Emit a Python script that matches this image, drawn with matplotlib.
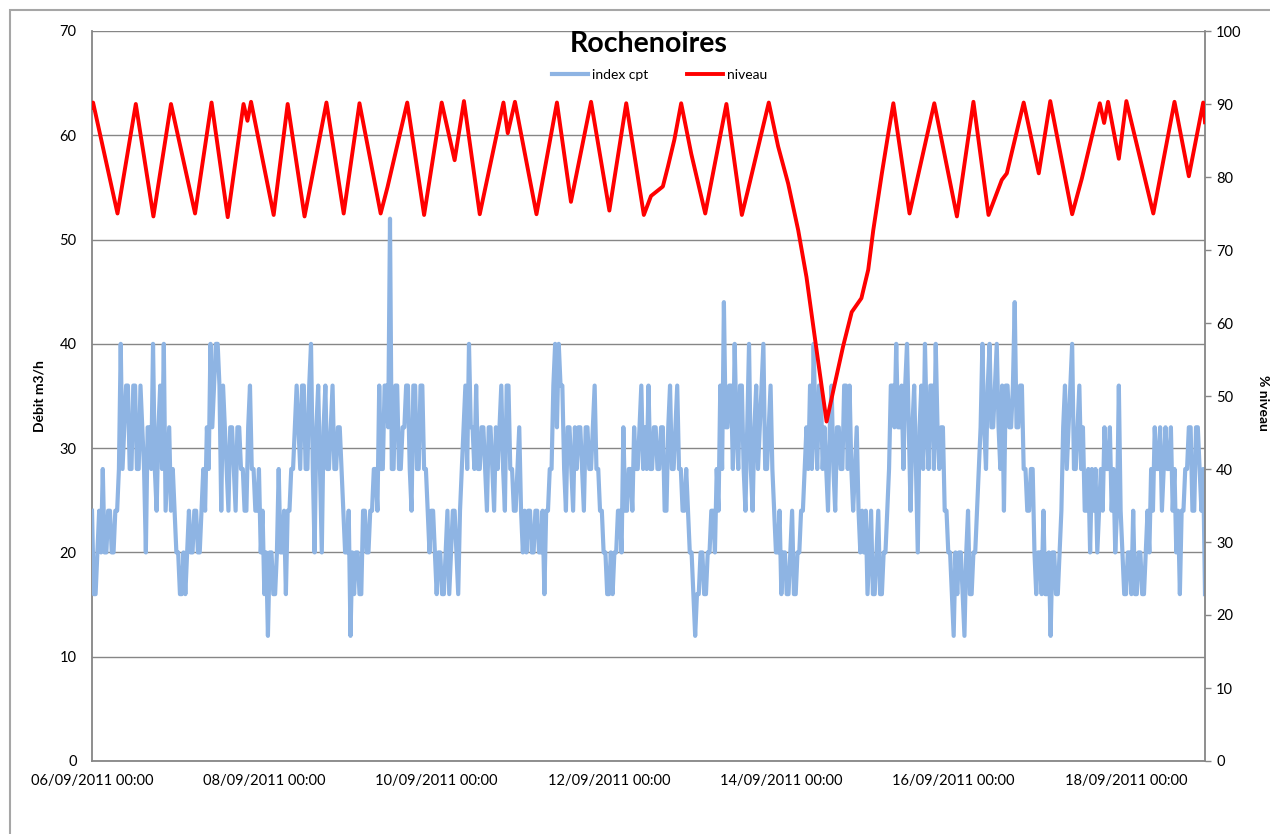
import numpy as np
import pandas as pd
import matplotlib
matplotlib.use("Agg")
import matplotlib.pyplot as plt
import matplotlib.dates as mdates
from matplotlib.patches import Rectangle

plt.rcParams['font.family'] = ['Lato', 'DejaVu Sans']

# debit index cpt (m3/h), one value every 30 min from 06/09/2011 00:00, one list per day
debit_j0 = [24,16,16,20,24,20,28,20,20,24,24,20,20,24,24,28,40,28,32,36,36,28,28,36,
            36,28,28,36,32,28,20,32,32,28,40,28,24,32,36,28,40,24,28,32,24,28,24,20]
debit_j1 = [20,16,16,20,16,20,24,20,20,24,24,20,20,24,28,24,32,28,40,32,36,40,40,36,
            24,36,32,28,24,32,32,28,24,32,32,28,28,24,24,32,36,28,28,24,24,28,20,24]
debit_j2 = [16,20,12,20,20,16,16,20,28,20,20,24,16,24,24,28,28,32,36,32,28,36,36,28,
            28,36,40,28,20,32,36,28,20,32,36,28,28,32,36,28,28,32,32,28,24,20,20,24]
debit_j3 = [12,20,16,20,20,16,16,24,24,20,20,24,24,28,28,24,36,28,28,36,36,32,52,28,
            28,36,36,28,28,32,32,36,36,28,24,36,36,28,28,36,36,28,28,24,20,24,24,20]
debit_j4 = [16,20,20,16,16,20,24,16,20,24,24,20,16,24,28,32,36,28,40,32,32,28,36,28,
            28,32,32,28,24,32,32,28,24,32,28,32,36,28,24,36,36,28,28,24,24,28,32,24]
debit_j5 = [20,24,20,24,24,20,20,24,24,20,20,24,16,24,24,28,28,36,40,32,40,36,36,28,
            24,32,32,28,24,32,28,32,32,28,24,32,32,28,28,32,36,28,28,24,24,20,20,16]
debit_j6 = [16,20,16,20,20,24,24,20,32,24,24,28,28,24,32,28,28,32,36,28,32,28,36,28,
            28,32,32,28,28,32,32,24,24,32,36,28,28,32,36,28,28,24,24,28,24,20,20,16]
debit_j7 = [12,16,16,20,20,16,16,20,20,24,24,20,28,24,36,28,44,32,32,36,36,28,40,32,
            28,36,36,28,24,32,40,28,24,32,36,28,32,36,40,28,28,32,36,28,24,20,20,24]
debit_j8 = [16,20,20,16,16,20,24,16,16,20,20,24,24,28,32,28,36,28,40,32,28,36,36,28,
            32,28,24,32,36,28,24,32,32,28,28,36,36,28,36,28,24,28,32,24,20,24,20,24]
debit_j9 = [16,20,24,16,16,20,24,16,16,20,20,24,28,36,36,32,40,32,32,36,28,36,40,32,
            24,32,36,28,20,32,36,28,40,32,28,36,36,28,40,32,28,32,32,24,24,20,20,16]
debit_j10 = [12,20,16,20,20,16,12,20,24,16,16,20,20,24,28,32,40,32,28,36,40,32,32,36,
             40,32,28,36,24,36,36,32,32,36,44,32,32,36,36,28,28,24,24,28,28,20,16,20]
debit_j11 = [20,16,24,16,16,20,12,20,20,16,16,20,24,32,36,28,32,36,40,28,28,32,36,28,
             32,24,24,28,20,28,24,28,20,24,28,24,32,28,28,32,24,28,20,24,36,24,20,16]
debit_j12 = [16,20,20,16,24,16,16,20,20,16,16,20,24,20,28,24,32,28,28,32,24,28,32,28,
             28,32,24,28,20,24,16,24,24,28,28,32,32,24,24,32,32,28,24,28,16]

# niveau (%), hours after 06/09/2011 00:00
niveau_h = [0, 0.3, 7.1, 12.2, 17.1, 22.0, 28.7, 33.3, 37.8, 42.2, 43.3, 44.3, 50.6,
            54.5, 59.2, 65.3, 70.1, 74.5, 80.4, 82.3, 87.8, 92.5, 97.4, 101.0, 103.6,
            108.0, 114.6, 115.8, 117.8, 123.8, 129.5, 133.4, 139.0, 144.1, 148.8,
            153.7, 155.7, 159.0, 160.4, 162.2, 164.1, 166.9, 170.8, 176.7, 181.0,
            182.7, 188.5, 191.1, 193.9, 196.7, 199.0, 201.3, 204.6, 206.9, 209.2,
            211.6, 214.3, 216.2, 217.6, 220.0, 221.8, 223.2, 227.7, 234.6, 240.9,
            245.5, 249.7, 253.4, 254.8, 259.5, 263.7, 266.9, 273.0, 275.7, 280.7,
            281.9, 283.0, 286.0, 288.1, 295.6, 301.5, 305.5, 309.5, 310.0]
niveau_pct = [89.5, 90.2, 75.0, 90.0, 74.6, 90.0, 75.0, 90.2, 74.5, 90.0, 87.7, 90.3, 74.8,
              90.0, 74.6, 90.2, 75.0, 90.1, 75.0, 78.6, 90.2, 74.8, 90.2, 82.3, 90.4,
              74.9, 90.2, 86.0, 90.3, 74.9, 90.2, 76.6, 90.3, 75.4, 90.1,
              74.8, 77.4, 78.7, 81.4, 85.1, 90.1, 83.2, 75.0, 90.0, 74.8,
              78.2, 90.2, 84.2, 79.1, 72.7, 66.3, 58.1, 46.5, 51.7, 56.8,
              61.5, 63.4, 67.3, 72.7, 80.5, 86.0, 90.1, 75.0, 90.1, 74.6,
              90.3, 74.8, 79.6, 80.5, 90.2, 80.5, 90.4, 74.9, 79.8, 90.1,
              87.4, 90.3, 82.5, 90.4, 75.0, 90.3, 80.1, 90.2, 87.5]

debit = (debit_j0 + debit_j1 + debit_j2 + debit_j3 + debit_j4 + debit_j5 + debit_j6
         + debit_j7 + debit_j8 + debit_j9 + debit_j10 + debit_j11 + debit_j12)

debut = pd.Timestamp('2011-09-06 00:00')
t_debit = pd.date_range(debut, periods=len(debit), freq='30min')
t_niveau = debut + pd.to_timedelta(niveau_h, unit='h')

gris = '#868686'

fig = plt.figure(figsize=(12.7, 8.34), dpi=100)
ax = fig.add_axes([92/1270, 1 - 761/834, (1205-92)/1270, (761-31)/834])
ax2 = ax.twinx()

l1, = ax.plot(t_debit, debit, color='#8EB4E3', lw=3.0, label='index cpt', zorder=3)
l2, = ax2.plot(t_niveau, niveau_pct, color='#FF0000', lw=2.8, label='niveau', zorder=4)

ax.set_xlim(t_debit[0], t_debit[-1])
ax.set_ylim(0, 70)
ax.set_yticks(np.arange(0, 71, 10))
ax2.set_ylim(0, 100)
ax2.set_yticks(np.arange(0, 101, 10))

ax.set_xticks(pd.date_range(debut, periods=7, freq='2D'))
ax.xaxis.set_major_formatter(mdates.DateFormatter('%d/%m/%Y %H:%M'))

ax.grid(axis='y', color=gris, lw=1)
ax.set_axisbelow(True)

for s in ['top', 'right']:
    ax.spines[s].set_visible(False)
for s in ['left', 'bottom']:
    ax.spines[s].set_color(gris)
    ax.spines[s].set_linewidth(1.3)
for s in ['left', 'top', 'bottom']:
    ax2.spines[s].set_visible(False)
ax2.spines['right'].set_color(gris)
ax2.spines['right'].set_linewidth(1.3)

ax.tick_params(axis='y', length=0, pad=11, labelsize=10.5)
ax.tick_params(axis='x', length=0, pad=9, labelsize=10.5)
ax2.tick_params(axis='y', length=4, width=1, color=gris, pad=4, labelsize=10.5)

ax.set_ylabel('Débit m3/h', fontsize=10, fontweight='bold')
ax.yaxis.set_label_coords(-0.042, 0.5)
ax2.set_ylabel('% niveau', fontsize=10, fontweight='bold', rotation=270, va='bottom')
ax2.yaxis.set_label_coords(1.047, 0.49)

ax.text(0.5, 0.982, 'Rochenoires', transform=ax.transAxes, ha='center', va='center',
        fontsize=20.5, fontweight='bold', zorder=10)
ax.legend([l1, l2], ['index cpt', 'niveau'], loc='center', bbox_to_anchor=(0.51, 0.94),
          ncol=2, frameon=False, fontsize=10, handlelength=2.6, columnspacing=2.8,
          handletextpad=0.3)
# cadre du graphique
fig.add_artist(Rectangle((10/1270, -0.05), 1.2, 1.05 - 10/834, transform=fig.transFigure,
                         fill=False, edgecolor='#a6a6a6', lw=1.5))

fig.savefig('out.png', dpi=100)
